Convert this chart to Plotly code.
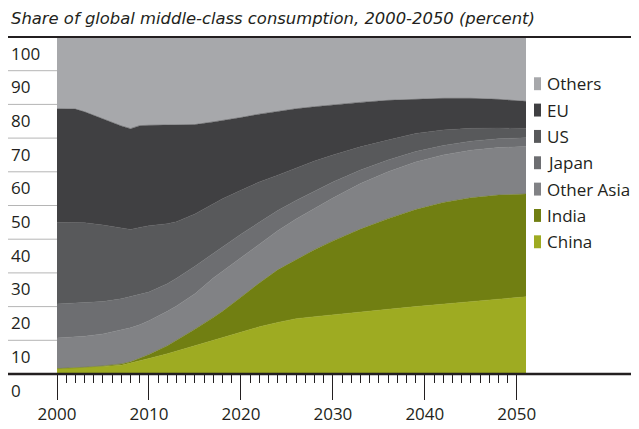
import plotly.graph_objects as go

years = [2000, 2002, 2003, 2005, 2007, 2008, 2009, 2010, 2012, 2013, 2015, 2017, 2018,
         2020, 2022, 2024, 2026, 2028, 2030, 2033, 2036, 2039, 2042, 2045, 2048, 2051]

china = [1.6, 1.8, 1.9, 2.2, 2.6, 3.2, 3.9, 4.6, 6.0, 6.8, 8.3, 9.9, 10.7,
         12.4, 14.0, 15.3, 16.4, 17.0, 17.6, 18.4, 19.2, 20.0, 20.8, 21.5, 22.2, 22.9]
india = [0.0, 0.0, 0.1, 0.2, 0.4, 0.4, 0.7, 1.2, 2.4, 3.2, 5.0, 6.9, 7.9,
         10.4, 13.0, 15.6, 17.6, 19.9, 21.9, 24.6, 26.9, 28.8, 30.1, 30.8, 30.9, 30.5]
other_asia = [9.1, 9.2, 9.2, 9.5, 10.0, 10.1, 10.0, 10.0, 10.2, 10.2, 10.5, 11.7, 11.9,
              11.7, 11.5, 11.6, 12.0, 12.3, 12.7, 13.5, 13.9, 14.1, 14.1, 14.1, 14.1, 14.1]
japan = [10.1, 10.2, 10.0, 9.6, 9.3, 9.3, 9.0, 8.5, 8.2, 8.2, 8.2, 7.3, 7.1,
         7.0, 6.5, 6.0, 5.5, 5.1, 4.8, 4.0, 3.5, 3.1, 2.8, 2.7, 2.6, 2.6]
us = [24.2, 23.7, 23.7, 22.7, 20.9, 19.9, 19.9, 19.7, 17.8, 16.8, 15.5, 14.7, 14.4,
      13.0, 12.0, 10.5, 9.7, 8.9, 8.0, 6.9, 5.9, 5.4, 4.6, 3.8, 3.2, 2.8]
eu = [33.7, 33.7, 32.9, 31.4, 30.4, 29.9, 30.2, 29.8, 29.3, 28.7, 26.5, 24.3, 23.2,
      21.6, 20.1, 19.0, 17.5, 16.1, 14.9, 13.2, 11.8, 10.2, 9.4, 8.9, 8.5, 8.0]
others = [21.3, 21.4, 22.2, 24.4, 26.4, 27.2, 26.3, 26.2, 26.1, 26.1, 26.0, 25.2, 24.8,
          23.9, 22.9, 22.0, 21.3, 20.7, 20.1, 19.4, 18.8, 18.4, 18.2, 18.2, 18.5, 19.1]

series_names = ["China", "India", "Other Asia", "Japan", "US", "EU", "Others"]
series_values = [china, india, other_asia, japan, us, eu, others]
series_colors = ["#9eab22", "#717f12", "#818285", "#6d6e71", "#58595b", "#404042", "#a7a8ab"]

y_ticks = [0, 10, 20, 30, 40, 50, 60, 70, 80, 90, 100]
x_major = [2000, 2010, 2020, 2030, 2040, 2050]
x_minor = [y for y in range(2001, 2050) if y % 10 != 0]

# page body has an 8px margin: figure origin sits at (8, 8) of the window
OFF = 8
W, H = 639, 429
ML, MR, MT, MB = 57 - OFF, 639 - 526 + OFF, 37 - OFF, 429 - 376 + OFF
PW, PH = W - ML - MR, H - MT - MB
FONT = "Open Sans"
TITLE_FONT = "DejaVu Sans"
TXT = "#231f20"


def px_x(p):  # window pixel -> paper x
    return (p - OFF - ML) / PW


def px_y(p):  # window pixel -> paper y
    return (H - MB - (p - OFF)) / PH


fig = go.Figure()
for name, vals, col in zip(series_names, series_values, series_colors):
    fig.add_trace(go.Scatter(
        x=years, y=vals, name=name, stackgroup="one", mode="lines",
        line=dict(width=0.5, color=col), fillcolor=col, showlegend=False,
        hoverinfo="skip"))

shapes = []
annotations = []
for v in y_ticks[1:-1]:
    shapes.append(dict(type="line", xref="paper", yref="paper",
                       x0=px_x(8), x1=0, y0=v / 100, y1=v / 100,
                       line=dict(color="#b5b5b5", width=1), layer="below"))
shapes.append(dict(type="line", xref="paper", yref="paper", x0=px_x(8), x1=px_x(W + 10),
                   y0=1, y1=1, line=dict(color=TXT, width=2), layer="above"))
shapes.append(dict(type="line", xref="paper", yref="paper", x0=px_x(8), x1=px_x(W + 10),
                   y0=0, y1=0, line=dict(color=TXT, width=2.5), layer="above"))

for v in y_ticks:
    annotations.append(dict(x=px_x(9), y=v, xref="paper", yref="y", text=str(v),
                            showarrow=False, xanchor="left", yanchor="middle",
                            yshift=-16, font=dict(family=FONT, size=17, color=TXT)))

row0, step = 84, 26.5
for i, (name, col) in enumerate(zip(series_names[::-1], series_colors[::-1])):
    cy = row0 + i * step
    shapes.append(dict(type="rect", xref="paper", yref="paper",
                       x0=px_x(534), x1=px_x(541), y0=px_y(cy + 6.5), y1=px_y(cy - 6.5),
                       fillcolor=col, line=dict(width=0)))
    annotations.append(dict(x=px_x(545), y=px_y(cy), xref="paper", yref="paper",
                            text=name, showarrow=False, xanchor="left", yanchor="middle",
                            font=dict(family=FONT, size=17, color=TXT)))

# title as an annotation so it is not clipped at the top
annotations.append(dict(x=px_x(9), y=px_y(18), xref="paper", yref="paper",
                        text="<i>Share of global middle-class consumption, 2000-2050 (percent)</i>",
                        showarrow=False, xanchor="left", yanchor="middle",
                        font=dict(family=TITLE_FONT, size=16.4, color=TXT)))

fig.update_layout(
    width=W, height=H,
    margin=dict(l=ML, r=MR, t=MT, b=MB, pad=0),
    paper_bgcolor="white", plot_bgcolor="white",
    xaxis=dict(range=[2000, 2051], showgrid=False, zeroline=False, showline=False,
               tickmode="array", tickvals=x_major, ticktext=[str(v) for v in x_major],
               ticks="outside", ticklen=25, tickwidth=1, tickcolor=TXT,
               tickfont=dict(family=FONT, size=17, color=TXT),
               minor=dict(tickmode="array", tickvals=x_minor, ticks="outside",
                          ticklen=8, tickwidth=1, tickcolor=TXT, showgrid=False)),
    yaxis=dict(range=[0, 100], showgrid=False, zeroline=False, showline=False,
               showticklabels=False, ticks=""),
    shapes=shapes, annotations=annotations,
    showlegend=False,
)

fig.write_html("out.html")
